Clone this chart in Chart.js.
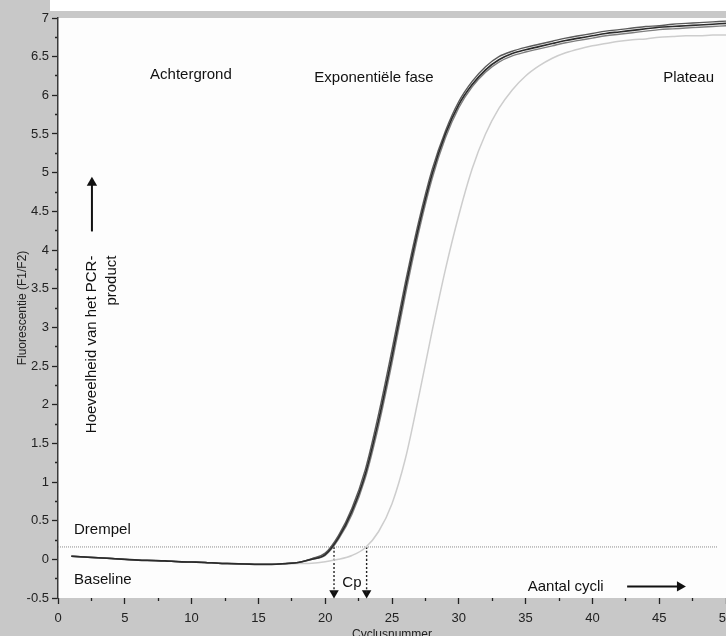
<!DOCTYPE html>
<html>
<head>
<meta charset="utf-8">
<script src="https://cdn.jsdelivr.net/npm/chart.js@4.4.1/dist/chart.umd.min.js"></script>
<style>
  html, body { margin: 0; padding: 0; overflow: hidden; background: #c8c8c8; }
  canvas { display: block; }
</style>
</head>
<body>
<canvas id="pcrChart" width="760" height="646"></canvas>
<script>
// cycle numbers
const cycles = [1,2,3,4,5,6,7,8,9,10,11,12,13,14,15,16,17,18,19,20,21,22,23,24,25,26,27,28,29,30,31,32,33,34,35,36,37,38,39,40,41,42,43,44,45,46,47,48,49,50];

// fluorescence (F1/F2) per cycle, the bundle of dark samples
const darkA = [0.04,0.03,0.02,0.01,0.0,-0.01,-0.015,-0.02,-0.03,-0.035,-0.04,-0.05,-0.055,-0.06,-0.065,-0.065,-0.055,-0.04,0.0,0.06,0.28,0.62,1.1,1.8,2.62,3.5,4.3,4.98,5.5,5.88,6.14,6.33,6.46,6.54,6.59,6.63,6.67,6.71,6.74,6.77,6.8,6.82,6.84,6.86,6.88,6.89,6.9,6.91,6.92,6.93];
const darkB = [0.04,0.03,0.02,0.01,0.0,-0.01,-0.015,-0.02,-0.03,-0.035,-0.04,-0.05,-0.055,-0.06,-0.065,-0.065,-0.055,-0.04,0.01,0.08,0.31,0.66,1.16,1.88,2.71,3.58,4.37,5.04,5.54,5.92,6.18,6.37,6.5,6.57,6.62,6.66,6.7,6.74,6.77,6.8,6.83,6.85,6.87,6.89,6.9,6.92,6.93,6.94,6.95,6.96];
const darkC = [0.04,0.03,0.02,0.01,0.0,-0.01,-0.015,-0.02,-0.03,-0.035,-0.04,-0.05,-0.055,-0.06,-0.065,-0.065,-0.055,-0.04,0.0,0.05,0.26,0.58,1.05,1.73,2.54,3.42,4.23,4.92,5.45,5.84,6.11,6.3,6.43,6.51,6.56,6.6,6.64,6.68,6.71,6.74,6.77,6.79,6.81,6.83,6.85,6.86,6.87,6.88,6.89,6.9];
// the later sample (light grey)
const lateSample = [0.04,0.03,0.02,0.01,0.0,-0.01,-0.015,-0.02,-0.03,-0.035,-0.04,-0.05,-0.055,-0.06,-0.065,-0.065,-0.06,-0.055,-0.05,-0.03,0.0,0.05,0.15,0.36,0.72,1.3,2.1,2.95,3.75,4.45,5.05,5.5,5.83,6.07,6.25,6.38,6.48,6.55,6.6,6.64,6.67,6.7,6.72,6.73,6.75,6.76,6.77,6.77,6.78,6.78];

const threshold = 0.16;
const thresholdEnd = 49.4;
const cpValues = [20.66, 23.1];

const xTicks = { min: 0, max: 50, step: 2.5 };
const yTicks = { min: -0.5, max: 7, step: 0.25 };

const FONT = '"Liberation Sans", Arial, sans-serif';

const toPoints = arr => cycles.map((c, i) => ({ x: c, y: arr[i] }));

// background: grey frame, white plot area
const frame = {
  id: 'frame',
  beforeDraw(chart) {
    const { ctx, chartArea: a, width, height } = chart;
    ctx.save();
    ctx.fillStyle = '#c8c8c8';
    ctx.fillRect(0, 0, width, height);
    ctx.fillStyle = '#ffffff';
    ctx.fillRect(50, 0, width - 50, 11);
    ctx.fillStyle = '#fdfdfd';
    ctx.fillRect(a.left, a.top, a.right - a.left, a.bottom - a.top);
    ctx.restore();
  }
};

// annotation texts placed through the scales
const notes = [
  { text: 'Achtergrond', x: 9.95, y: 6.26, align: 'center' },
  { text: 'Exponentiële fase', x: 23.65, y: 6.23, align: 'center' },
  { text: 'Plateau', x: 47.2, y: 6.23, align: 'center' },
  { text: 'Drempel', x: 1.2, y: 0.38, align: 'left' },
  { text: 'Baseline', x: 1.2, y: -0.27, align: 'left' },
  { text: 'Cp', x: 22.0, y: -0.30, align: 'center' },
  { text: 'Aantal cycli', x: 38.0, y: -0.35, align: 'center' }
];

const labels = {
  id: 'labels',
  afterDatasetsDraw(chart) {
    const { ctx, scales: { x, y } } = chart;
    ctx.save();
    ctx.fillStyle = '#111';
    ctx.font = '15px ' + FONT;
    ctx.textBaseline = 'middle';
    notes.forEach(n => {
      ctx.textAlign = n.align;
      ctx.fillText(n.text, x.getPixelForValue(n.x), y.getPixelForValue(n.y));
    });
    // rotated two-line label next to the up arrow
    const line1 = 'Hoeveelheid van het PCR-';
    const w1 = ctx.measureText(line1).width;
    ctx.translate(x.getPixelForValue(2.54), y.getPixelForValue(2.78));
    ctx.rotate(-Math.PI / 2);
    ctx.textAlign = 'center';
    ctx.fillText(line1, 0, 0);
    ctx.textAlign = 'right';
    ctx.fillText('product', w1 / 2, 20);
    ctx.restore();
  }
};

const lineDefaults = { pointRadius: 0, fill: false, cubicInterpolationMode: 'monotone', clip: false };
const head = (pt, r, rot) => ({ ...lineDefaults, data: [pt], showLine: false, pointStyle: 'triangle', pointRadius: r, pointRotation: rot, pointBackgroundColor: '#111', pointBorderColor: '#111', borderWidth: 0 });

const datasets = [
  { ...lineDefaults, data: toPoints(darkA), borderColor: '#2b2b2b', borderWidth: 1.6 },
  { ...lineDefaults, data: toPoints(darkB), borderColor: '#5a5a5a', borderWidth: 1.4 },
  { ...lineDefaults, data: toPoints(darkC), borderColor: '#7e7e7e', borderWidth: 1.4 },
  { ...lineDefaults, data: toPoints(lateSample), borderColor: '#cdcdcd', borderWidth: 1.5 },
  // threshold
  { ...lineDefaults, data: [{ x: 0, y: threshold }, { x: thresholdEnd, y: threshold }], borderColor: '#8a8a8a', borderWidth: 1, borderDash: [1, 1] },
  // Cp drop lines with arrow heads
  ...cpValues.map(cp => ({ ...lineDefaults, data: [{ x: cp, y: threshold }, { x: cp, y: -0.44 }], borderColor: '#222', borderWidth: 1.4, borderDash: [2, 2] })),
  ...cpValues.map(cp => head({ x: cp, y: -0.435 }, 5.5, 180)),
  // "Aantal cycli" arrow
  { ...lineDefaults, data: [{ x: 42.6, y: -0.35 }, { x: 46.5, y: -0.35 }], borderColor: '#111', borderWidth: 2 },
  head({ x: 46.55, y: -0.35 }, 6, 90),
  // up arrow on the left
  { ...lineDefaults, data: [{ x: 2.54, y: 4.24 }, { x: 2.54, y: 4.85 }], borderColor: '#111', borderWidth: 2 },
  head({ x: 2.54, y: 4.87 }, 6, 0)
];

new Chart(document.getElementById('pcrChart'), {
  type: 'line',
  data: { datasets },
  plugins: [frame, labels],
  options: {
    responsive: false,
    animation: false,
    layout: { padding: { top: 18, right: 34, left: 0, bottom: 0 } },
    plugins: { legend: { display: false }, tooltip: { enabled: false } },
    scales: {
      x: {
        type: 'linear', min: xTicks.min, max: xTicks.max,
        afterFit: s => { s.height = 48; },
        border: { display: false },
        grid: {
          drawOnChartArea: false, tickLength: 6, tickColor: '#222', tickWidth: 1.3,
          tickBorderDash: c => (c.tick && c.tick.value % 5 !== 0) ? [3, 20] : []
        },
        ticks: {
          stepSize: xTicks.step, autoSkip: false, maxRotation: 0, padding: 7,
          color: '#222', font: { family: FONT, size: 13 },
          callback: v => v % 5 === 0 ? String(v) : ''
        },
        title: { display: true, text: 'Cyclusnummer', color: '#222', font: { family: FONT, size: 12 }, padding: { top: 0, bottom: 4 } }
      },
      y: {
        type: 'linear', min: yTicks.min, max: yTicks.max,
        afterFit: s => { s.width = 58; },
        border: { display: true, color: '#3a3a3a', width: 1.5 },
        grid: {
          drawOnChartArea: false, tickLength: 6, tickColor: '#222', tickWidth: 1.3,
          tickBorderDash: c => (c.tick && (c.tick.value * 2) % 1 !== 0) ? [0, 3, 3, 20] : []
        },
        ticks: {
          stepSize: yTicks.step, autoSkip: false, padding: 3,
          color: '#222', font: { family: FONT, size: 13 },
          callback: v => (v * 2) % 1 === 0 ? String(v) : ''
        },
        title: { display: true, text: 'Fluorescentie (F1/F2)', color: '#222', font: { family: FONT, size: 12 }, padding: { top: 15, bottom: 0 } }
      }
    }
  }
});
</script>
</body>
</html>
